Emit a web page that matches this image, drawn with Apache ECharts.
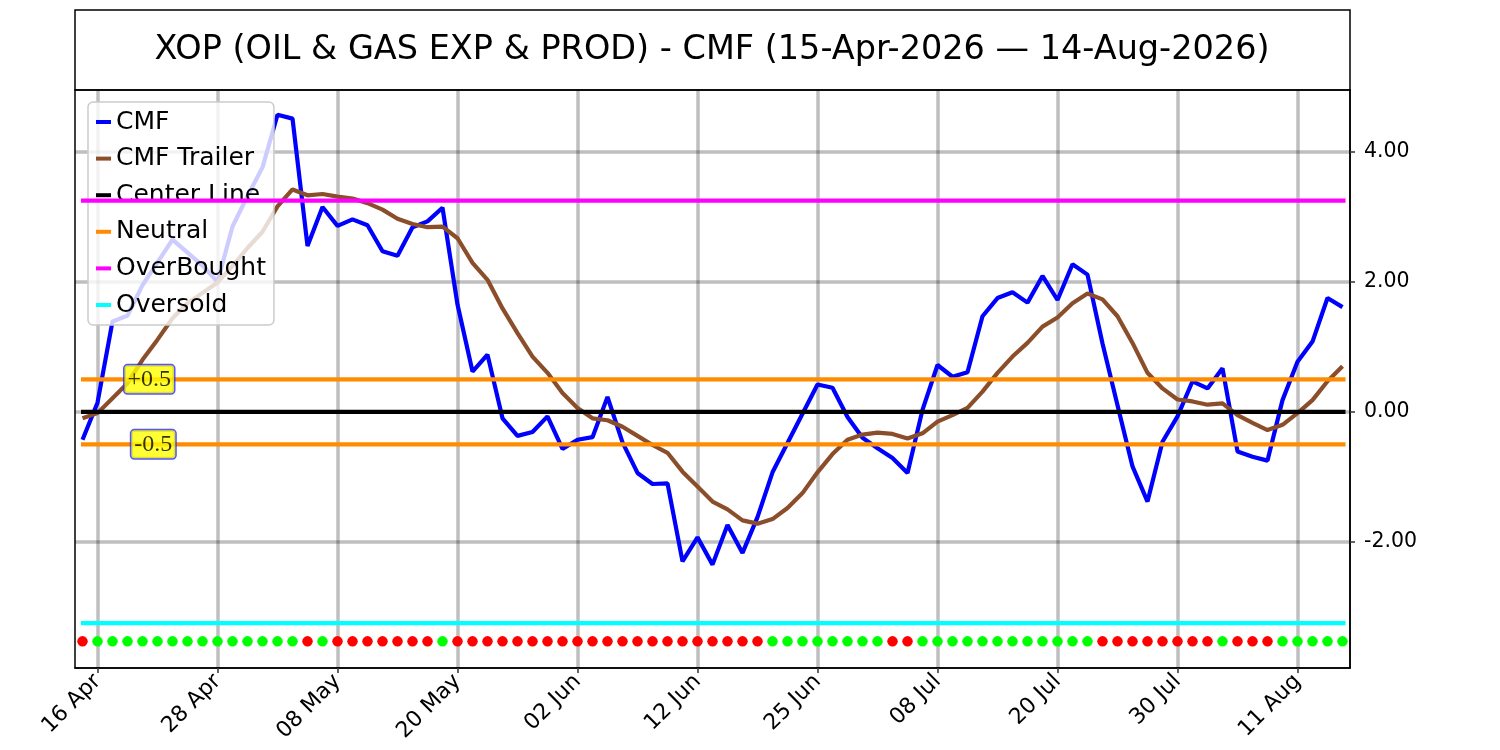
<!DOCTYPE html>
<html>
<head>
<meta charset="utf-8">
<title>XOP CMF</title>
<script src="https://cdn.jsdelivr.net/npm/echarts@6.0.0/dist/echarts.min.js"></script>
<style>
	html, body { margin: 0; padding: 0; background: #fff; }
	#report { width: 1500px; height: 750px; }
</style>
</head>
<body>
<div id="report"></div>
<script>
// trading days shown on the x axis
var dates = [
	'15 Apr','16 Apr','17 Apr','20 Apr','21 Apr','22 Apr','23 Apr','24 Apr','27 Apr','28 Apr',
	'29 Apr','30 Apr','01 May','04 May','05 May','06 May','07 May','08 May','11 May','12 May',
	'13 May','14 May','15 May','18 May','19 May','20 May','21 May','22 May','26 May','27 May',
	'28 May','29 May','01 Jun','02 Jun','03 Jun','04 Jun','05 Jun','08 Jun','09 Jun','10 Jun',
	'11 Jun','12 Jun','15 Jun','16 Jun','17 Jun','18 Jun','22 Jun','23 Jun','24 Jun','25 Jun',
	'26 Jun','29 Jun','30 Jun','01 Jul','02 Jul','06 Jul','07 Jul','08 Jul','09 Jul','10 Jul',
	'13 Jul','14 Jul','15 Jul','16 Jul','17 Jul','20 Jul','21 Jul','22 Jul','23 Jul','24 Jul',
	'27 Jul','28 Jul','29 Jul','30 Jul','31 Jul','03 Aug','04 Aug','05 Aug','06 Aug','07 Aug',
	'10 Aug','11 Aug','12 Aug','13 Aug','14 Aug'
];
var tickLabels = ['16 Apr','28 Apr','08 May','20 May','02 Jun','12 Jun','25 Jun','08 Jul','20 Jul','30 Jul','11 Aug'];
var yTicks = [-2, 0, 2, 4];

var cmf = [
	-0.43, 0.14, 1.39, 1.48, 1.95, 2.30, 2.65, 2.45, 2.25, 2.00,
	2.85, 3.32, 3.76, 4.57, 4.51, 2.55, 3.15, 2.86, 2.96, 2.87,
	2.47, 2.40, 2.84, 2.93, 3.14, 1.65, 0.62, 0.88, -0.10, -0.37,
	-0.31, -0.07, -0.57, -0.43, -0.39, 0.23, -0.47, -0.94, -1.11, -1.10,
	-2.30, -1.93, -2.35, -1.74, -2.17, -1.62, -0.93, -0.48, -0.03, 0.42,
	0.37, -0.08, -0.40, -0.56, -0.71, -0.94, 0.03, 0.72, 0.54, 0.61,
	1.47, 1.75, 1.84, 1.68, 2.09, 1.72, 2.27, 2.11, 1.05, 0.10,
	-0.84, -1.38, -0.46, -0.07, 0.47, 0.36, 0.67, -0.61, -0.69, -0.75,
	0.18, 0.77, 1.08, 1.75, 1.61
];
var trailer = [
	-0.10, -0.02, 0.21, 0.44, 0.80, 1.11, 1.44, 1.67, 1.83, 1.99,
	2.24, 2.52, 2.77, 3.16, 3.42, 3.33, 3.35, 3.31, 3.28, 3.21,
	3.11, 2.97, 2.89, 2.84, 2.85, 2.67, 2.29, 2.03, 1.59, 1.21,
	0.85, 0.60, 0.29, 0.06, -0.10, -0.13, -0.23, -0.37, -0.51, -0.63,
	-0.92, -1.15, -1.38, -1.50, -1.67, -1.72, -1.65, -1.48, -1.25, -0.93,
	-0.65, -0.43, -0.35, -0.32, -0.34, -0.41, -0.33, -0.15, -0.05, 0.06,
	0.31, 0.60, 0.85, 1.06, 1.31, 1.45, 1.67, 1.82, 1.73, 1.47,
	1.06, 0.60, 0.36, 0.19, 0.16, 0.11, 0.13, -0.05, -0.17, -0.28,
	-0.20, -0.02, 0.18, 0.47, 0.70
];
// R = red dot, G = green dot, one per day
var signal = ('R' + 'GGGGGGGGGGGGGG' + 'R' + 'G' + 'RRRRRRR' + 'G' +
	'RRRRRRRRRRRRRRRRRRRRR' + 'GGGGGGGG' + 'RR' + 'GGGGGGGGGGGG' +
	'RRRRRRRR' + 'G' + 'RRR' + 'GGGGG').split('');

var centerLevel = 0;
var neutralLevels = [0.5, -0.5];
var overBought = 3.25;
var overSold = -3.25;
var dotLevel = -3.53;
var notes = [['+0.5', 4.45, 0.5], ['-0.5', 4.72, -0.5]];

var FONT = 'DejaVu Sans';
var lineStart = -0.1, lineEnd = 84.2;

function flat(v) {
	return [[lineStart, v], [lineEnd, v]];
}

function levelSeries(name, v, color) {
	return {
		name: name, type: 'line', data: flat(v), color: color,
		showSymbol: false, symbol: 'none', silent: true, z: 4,
		lineStyle: {color: color, width: 4.2}
	};
}

var gridStyle = {color: 'rgba(0,0,0,0.25)', width: 3.5};
var xTicks = tickLabels.map(function(t) { return dates.indexOf(t); });

var series = [
	{
		name: 'CMF', type: 'line', color: '#0000ff', z: 3,
		data: cmf.map(function(v, i) { return [i, v]; }),
		showSymbol: false, symbol: 'none',
		lineStyle: {color: '#0000ff', width: 4.2}
	},
	{
		name: 'CMF Trailer', type: 'line', color: '#8b4e2b', z: 3,
		data: trailer.map(function(v, i) { return [i, v]; }),
		showSymbol: false, symbol: 'none',
		lineStyle: {color: '#8b4e2b', width: 4.2}
	},
	levelSeries('Center Line', centerLevel, '#000000'),
	levelSeries('Neutral', neutralLevels[0], '#ff8c00'),
	levelSeries('Neutral', neutralLevels[1], '#ff8c00'),
	levelSeries('OverBought', overBought, '#ff00ff'),
	levelSeries('Oversold', overSold, '#00ffff'),
	{
		name: 'signal', type: 'scatter', symbolSize: 10.5, z: 5, silent: true,
		data: signal.map(function(s, i) {
			return {value: [i, dotLevel], itemStyle: {color: s === 'R' ? '#ff0000' : '#00ff00', opacity: 1}};
		})
	},
	{
		name: 'notes', type: 'scatter', symbolSize: 0, z: 6, silent: true,
		data: notes.map(function(n) { return {value: [n[1], n[2]], name: n[0]}; }),
		label: {
			show: true, position: 'inside', formatter: '{b}',
			fontFamily: 'Liberation Serif', fontSize: 24, color: '#000',
			backgroundColor: '#ffff00', borderColor: '#2b2bff', borderWidth: 1.5,
			borderRadius: 3, padding: [2, 3, 1, 3], lineHeight: 25
		}
	}
];

var option = {
	animation: false,
	backgroundColor: '#fff',
	textStyle: {fontFamily: FONT},
	graphic: [
		{
			type: 'rect', z: -1,
			shape: {x: 75, y: 10, width: 1275, height: 80},
			style: {fill: '#fff', stroke: '#000', lineWidth: 1.5}
		},
		{
			type: 'text', z: 10,
			x: 712, y: 50,
			style: {
				text: 'XOP (OIL & GAS EXP & PROD) - CMF (15-Apr-2026 \u2014 14-Aug-2026)',
				font: '33.5px "DejaVu Sans"', fill: '#000',
				textAlign: 'center', textVerticalAlign: 'middle', verticalAlign: 'middle'
			}
		}
	],
	legend: {
		data: ['CMF', 'CMF Trailer', 'Center Line', 'Neutral', 'OverBought', 'Oversold'],
		orient: 'vertical', left: 88, top: 102,
		icon: 'rect', itemWidth: 15, itemHeight: 4, itemGap: 8.6,
		backgroundColor: 'rgba(255,255,255,0.8)', borderColor: '#cccccc',
		borderWidth: 1.5, borderRadius: 5, padding: [6, 8, 6, 8],
		textStyle: {fontFamily: FONT, fontSize: 25, color: '#000', lineHeight: 28},
		selectedMode: false
	},
	grid: {
		left: 75, top: 90, width: 1275, height: 578,
		show: true, borderColor: '#000', borderWidth: 1.5,
		outerBoundsMode: 'none', containLabel: false
	},
	xAxis: {
		type: 'value', min: -0.5, max: 84.5,
		axisLine: {show: true, onZero: false, lineStyle: {color: '#000', width: 1.5}},
		axisTick: {
			show: true, length: 5, inside: false, customValues: xTicks,
			lineStyle: {color: '#333', width: 1.5}
		},
		axisLabel: {
			show: true, rotate: 45, margin: 10,
			fontFamily: FONT, fontSize: 22, color: '#000',
			customValues: xTicks,
			formatter: function(v) { return dates[Math.round(v)]; }
		},
		splitLine: {show: true, lineStyle: gridStyle}
	},
	yAxis: {
		type: 'value', position: 'right', min: -3.94, max: 4.95,
		axisLine: {show: true, onZero: false, lineStyle: {color: '#000', width: 1.5}},
		axisTick: {
			show: true, length: 5, inside: false, customValues: yTicks,
			lineStyle: {color: '#333', width: 1.5}
		},
		axisLabel: {
			show: true, margin: 14, customValues: yTicks,
			fontFamily: FONT, fontSize: 20.5, color: '#000',
			formatter: function(v) { return v.toFixed(2); }
		},
		splitLine: {show: true, lineStyle: gridStyle}
	},
	series: series
};

var myChart = echarts.init(document.getElementById('report'));
myChart.setOption(option);
</script>
</body>
</html>
